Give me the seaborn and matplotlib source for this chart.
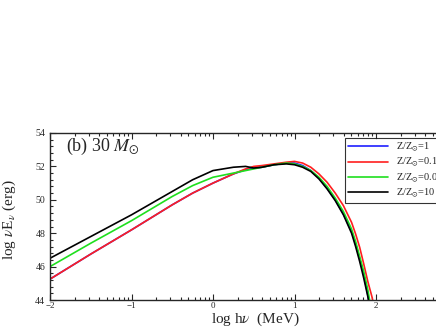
import numpy as np
import pandas as pd
import matplotlib
matplotlib.use("Agg")
import matplotlib.pyplot as plt
import seaborn as sns

# log h nu (MeV)
log_e = [-2.0, -1.5, -1.0, -0.5, -0.25, 0.0, 0.25, 0.4, 0.5, 0.6, 0.75, 0.9, 1.0,
         1.1, 1.2, 1.3, 1.4, 1.5, 1.6, 1.7, 1.75, 1.8, 1.85, 1.9, 1.95, 2.0]

# log nu E_nu (erg) for each metallicity
z_1 = [45.25, 46.75, 48.2, 49.7, 50.4, 51.0, 51.55, 51.8, 51.9, 51.95, 52.1, 52.2, 52.2,
       52.05, 51.75, 51.3, 50.7, 50.0, 49.15, 48.1, 47.35, 46.45, 45.5, 44.3, 42.9, 41.5]
z_01 = [45.25, 46.75, 48.2, 49.7, 50.4, 51.0, 51.55, 51.85, 52.0, 52.05, 52.15, 52.25, 52.3,
        52.2, 51.95, 51.55, 51.05, 50.4, 49.65, 48.65, 47.95, 47.15, 46.15, 45.1, 44.2, 43.0]
z_001 = [46.0, 47.4, 48.75, 50.2, 50.85, 51.35, 51.6, 51.75, 51.85, 51.95, 52.1, 52.2, 52.15,
         52.0, 51.75, 51.35, 50.8, 50.1, 49.3, 48.25, 47.5, 46.6, 45.7, 44.6, 43.2, 41.8]
z_10 = [46.5, 47.8, 49.1, 50.5, 51.2, 51.75, 51.95, 52.0, 51.9, 51.95, 52.1, 52.15, 52.1,
        51.95, 51.7, 51.25, 50.65, 49.95, 49.1, 48.0, 47.2, 46.3, 45.3, 44.2, 42.8, 41.4]

labels = [r"Z/Z$_{\odot}$=1", r"Z/Z$_{\odot}$=0.1", r"Z/Z$_{\odot}$=0.01", r"Z/Z$_{\odot}$=10"]
series = [z_1, z_01, z_001, z_10]
colors = ["#1f1fff", "#ff1f1f", "#1fdf1f", "black"]

df = pd.concat([pd.DataFrame({"loge": log_e, "flux": s, "model": lab})
                for s, lab in zip(series, labels)])

sns.set_style("ticks")
plt.rcParams["font.family"] = ["Liberation Serif", "DejaVu Serif"]
plt.rcParams["mathtext.fontset"] = "stix"

fig = plt.figure(figsize=(4.36, 3.27), dpi=100)
ax = fig.add_axes([50 / 436, 27 / 327, 407.5 / 436, 167 / 327])

sns.lineplot(data=df, x="loge", y="flux", hue="model", palette=colors,
             hue_order=labels, linewidth=1.2, ax=ax, sort=False)

ax.set_xlim(-2, 3)
ax.set_ylim(44, 54)
ax.set_xticks([-2, -1, 0, 1, 2, 3])
ax.set_xticklabels(["\u22122", "\u22121", "0", "1", "2", ""])
ax.set_xticks([n + np.log10(k) for n in range(-2, 3) for k in range(2, 10)], minor=True)
ax.set_yticks([44, 46, 48, 50, 52, 54])
ax.set_yticks(np.arange(44, 54.01, 0.4), minor=True)
ax.tick_params(which="both", direction="in", top=True, right=True, labelsize=7, width=0.8)
ax.tick_params(which="major", length=4)
ax.tick_params(which="minor", length=2)
ax.tick_params(axis="x", pad=1.5, labelsize=6.5)
for sp in ax.spines.values():
    sp.set_linewidth(1.0)

ax.set_xlabel(r"log h$\nu$  (MeV)", fontsize=11)
ax.xaxis.set_label_coords(0.503, -0.064)
ax.set_ylabel(r"log $\nu$E$_{\nu}$ (erg)", fontsize=11)
ax.yaxis.set_label_coords(-0.078, 0.48)
ax.text(-1.8, 52.95, r"(b) 30 $M_{\odot}$", fontsize=13)

handles, labs = ax.get_legend_handles_labels()
leg = ax.legend(handles, labs, loc="upper left", bbox_to_anchor=(345 / 436, 1 - 138 / 327),
                bbox_transform=fig.transFigure, fontsize=7.5, frameon=True, fancybox=False,
                edgecolor="black", handlelength=3.8, borderpad=0.3, labelspacing=0.2,
                borderaxespad=0)
leg.get_frame().set_linewidth(0.8)

fig.savefig("out.png", dpi=100)
